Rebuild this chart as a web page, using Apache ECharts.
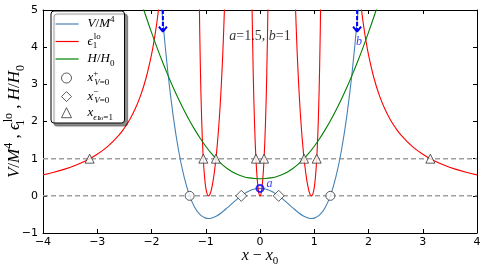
<!DOCTYPE html>
<html>
<head>
<meta charset="utf-8">
<script src="https://cdn.jsdelivr.net/npm/echarts@6/dist/echarts.min.js"></script>
<style>html,body{margin:0;padding:0;background:#fff}#c{width:485px;height:271px}</style>
</head>
<body>
<div id="c"></div>
<script>
// ---------- data ----------
const xTicks = [-4, -3, -2, -1, 0, 1, 2, 3, 4];
const yTicks = [-1, 0, 1, 2, 3, 4, 5];

// V/M^4
const potential = [
  [-1.9,6.734],[-1.8,4.866],[-1.7,3.350],[-1.6,2.146],[-1.5,1.213],[-1.4,0.514],[-1.3,0.014],
  [-1.2,-0.318],[-1.1,-0.514],[-1.0,-0.600],[-0.95,-0.610],[-0.9,-0.602],[-0.8,-0.542],[-0.7,-0.442],
  [-0.6,-0.318],[-0.5,-0.188],[-0.4,-0.062],[-0.3,0.046],[-0.2,0.130],[-0.1,0.182],[0,0.200],
  [0.1,0.182],[0.2,0.130],[0.3,0.046],[0.4,-0.062],[0.5,-0.188],[0.6,-0.318],[0.7,-0.442],
  [0.8,-0.542],[0.9,-0.602],[0.95,-0.610],[1.0,-0.600],[1.1,-0.514],[1.2,-0.318],[1.3,0.014],
  [1.4,0.514],[1.5,1.213],[1.6,2.146],[1.7,3.350],[1.8,4.866],[1.9,6.734]
];

// epsilon_1^lo, visible branches
const epsOuterLeft = [
  [-4,0.564],[-3.8,0.634],[-3.6,0.719],[-3.4,0.823],[-3.2,0.952],[-3.0,1.118],[-2.8,1.336],
  [-2.6,1.632],[-2.5,1.824],[-2.4,2.056],[-2.3,2.342],[-2.2,2.703],[-2.1,3.170],[-2.0,3.797],
  [-1.95,4.197],[-1.9,4.677],[-1.85,5.264]
];
const epsInnerLeft = [
  [-1.13,6.63],[-1.12,5.37],[-1.1,3.52],[-1.075,2.036],[-1.05,1.117],[-1.025,0.553],[-1.0,0.222],
  [-0.975,0.053],[-0.95,0.000],[-0.925,0.036],[-0.9,0.145],[-0.875,0.316],[-0.85,0.544],
  [-0.825,0.830],[-0.8,1.177],[-0.775,1.590],[-0.75,2.083],[-0.725,2.670],[-0.7,3.375],
  [-0.675,4.229],[-0.65,5.28],[-0.64,5.77]
];
const epsCenter = [
  [-0.16,6.55],[-0.15,5.41],[-0.125,3.30],[-0.1,1.911],[-0.075,0.998],[-0.05,0.422],[-0.025,0.102],
  [0,0],[0.025,0.102],[0.05,0.422],[0.075,0.998],[0.1,1.911],[0.125,3.30],[0.15,5.41],[0.16,6.55]
];
const epsInnerRight = [
  [0.64,5.77],[0.65,5.28],[0.675,4.229],[0.7,3.375],[0.725,2.670],[0.75,2.083],[0.775,1.590],
  [0.8,1.177],[0.825,0.830],[0.85,0.544],[0.875,0.316],[0.9,0.145],[0.925,0.036],[0.95,0.000],
  [0.975,0.053],[1.0,0.222],[1.025,0.553],[1.05,1.117],[1.075,2.036],[1.1,3.52],[1.12,5.37],[1.13,6.63]
];
const epsOuterRight = [
  [1.85,5.264],[1.9,4.677],[1.95,4.197],[2.0,3.797],[2.1,3.170],[2.2,2.703],[2.3,2.342],
  [2.4,2.056],[2.5,1.824],[2.6,1.632],[2.8,1.336],[3.0,1.118],[3.2,0.952],[3.4,0.823],
  [3.6,0.719],[3.8,0.634],[4,0.564]
];

// H/H0
const hubble = [
  [-2.2,5.263],[-2.1,4.819],[-2.0,4.397],[-1.9,3.995],[-1.8,3.614],[-1.7,3.255],[-1.6,2.916],
  [-1.5,2.599],[-1.4,2.303],[-1.3,2.028],[-1.2,1.775],[-1.1,1.544],[-1.0,1.335],[-0.9,1.148],
  [-0.8,0.985],[-0.7,0.845],[-0.6,0.728],[-0.5,0.635],[-0.4,0.565],[-0.3,0.515],[-0.2,0.483],
  [-0.1,0.466],[0,0.460],[0.1,0.466],[0.2,0.483],[0.3,0.515],[0.4,0.565],[0.5,0.635],[0.6,0.728],
  [0.7,0.845],[0.8,0.985],[0.9,1.148],[1.0,1.335],[1.1,1.544],[1.2,1.775],[1.3,2.028],[1.4,2.303],
  [1.5,2.599],[1.6,2.916],[1.7,3.255],[1.8,3.614],[1.9,3.995],[2.0,4.397],[2.1,4.819],[2.2,5.263]
];

// special points
const vZeroPlus = [[-1.297,0],[1.297,0]];
const vZeroMinus = [[-0.345,0],[0.345,0]];
const epsOne = [[-3.14,1],[-1.045,1],[-0.813,1],[-0.075,1],[0.075,1],[0.813,1],[1.045,1],[3.14,1]];
const pointA = [[0,0.2]];
const refLevels = [0, 1];

// annotation anchors (data units)
const arrowShaftLeft = [[-1.79,5],[-1.79,4.45]];
const arrowShaftRight = [[1.79,5],[1.79,4.45]];
const arrowHeadLeft = [[-1.864,4.555],[-1.79,4.42],[-1.716,4.555]];
const arrowHeadRight = [[1.716,4.555],[1.79,4.42],[1.864,4.555]];
const labelB = [[1.825,4.15]];
const paramText = [[0,4.29]];

// ---------- styling ----------
const SERIF = "'Liberation Serif','DejaVu Serif',serif";
const SANS = "'DejaVu Sans',sans-serif";
const BLUE = '#4682b4', RED = '#ff0000', GREEN = '#008000';

function richSet(base, color) {
  const lh = Math.round(base * 1.4);
  const s = Math.round(base * 0.7);
  const ss = Math.round(base * 0.55);
  const upH = Math.max(4, Math.round(base * 0.38));
  const dnH = Math.max(5, Math.round(base * 0.55));
  const c = color || '#000';
  return {
    i:    {fontFamily: SERIF, fontStyle: 'italic', fontSize: base, lineHeight: lh, color: c},
    r:    {fontFamily: SERIF, fontSize: base, lineHeight: lh, color: c},
    sup:  {fontFamily: SERIF, fontSize: s, lineHeight: upH, verticalAlign: 'top', color: c},
    supw: {fontFamily: SERIF, fontSize: s, lineHeight: upH, verticalAlign: 'top', width: 1, color: c},
    sub:  {fontFamily: SERIF, fontSize: s, lineHeight: dnH, verticalAlign: 'bottom', color: c},
    subw: {fontFamily: SERIF, fontSize: s, lineHeight: dnH, verticalAlign: 'bottom', width: 1, color: c},
    subi: {fontFamily: SERIF, fontStyle: 'italic', fontSize: s, lineHeight: dnH, verticalAlign: 'bottom', color: c},
    ssub: {fontFamily: SERIF, fontSize: ss, lineHeight: 2, verticalAlign: 'bottom', width: 1, color: c},
    ssup: {fontFamily: SERIF, fontSize: ss, lineHeight: 14, verticalAlign: 'bottom', color: c}
  };
}

const legendText = {
  V:  '{i|V}{r|/}{i|M}{sup|4}',
  eps: '{i|ϵ}{subw|1}{sup|lo}',
  H:  '{i|H}{r|/}{i|H}{sub|0}',
  xp: '{i|x}{supw|+}{subi|V}{sub|=0}',
  xm: '{i|x}{supw|−}{subi|V}{sub|=0}',
  xe: '{i|x}{subi|ϵ}{ssub|1}{ssup|lo}{sub|=1}'
};

const tickFmt = v => String(v).replace('-', '\u2212');

function axisCommon(extra) {
  return Object.assign({
    type: 'value',
    axisLine: {show: true, onZero: false, lineStyle: {color: '#000', width: 1}},
    axisTick: {show: true, inside: true, length: 4, lineStyle: {color: '#000', width: 1}},
    splitLine: {show: false},
    minorTick: {show: false}
  }, extra);
}

const lineBase = {type: 'line', symbol: 'none', smooth: 0.4, clip: true, silent: true};

const series = [];
refLevels.forEach((lv, k) => series.push(Object.assign({}, lineBase, {
  name: 'ref' + k, data: [[xTicks[0], lv], [xTicks[xTicks.length-1], lv]], smooth: false, z: 1,
  lineStyle: {color: '#a0a0a0', width: 1.5, type: [5, 3]}
})));
series.push(Object.assign({}, lineBase, {name: 'V', data: potential, z: 2,
  itemStyle: {color: BLUE}, lineStyle: {color: BLUE, width: 1.1}}));
[epsOuterLeft, epsInnerLeft, epsCenter, epsInnerRight, epsOuterRight].forEach(seg =>
  series.push(Object.assign({}, lineBase, {name: 'eps', data: seg, z: 2,
    itemStyle: {color: RED}, lineStyle: {color: RED, width: 1.1}})));
series.push(Object.assign({}, lineBase, {name: 'H', data: hubble, z: 2,
  itemStyle: {color: GREEN}, lineStyle: {color: GREEN, width: 1.1}}));

const mk = {color: '#fff', borderColor: '#333', borderWidth: 1};
series.push({type: 'scatter', name: 'xp', data: vZeroPlus, symbol: 'circle', symbolSize: 9, itemStyle: mk, z: 4, silent: true});
series.push({type: 'scatter', name: 'xm', data: vZeroMinus, symbol: 'diamond', symbolSize: 11, itemStyle: mk, z: 4, silent: true});
series.push({type: 'scatter', name: 'xe', data: epsOne, symbol: 'triangle', symbolSize: 9, itemStyle: mk, z: 4, silent: true});

series.push({type: 'scatter', name: 'a', data: pointA, symbol: 'circle', symbolSize: 7, z: 5, silent: true,
  itemStyle: {color: 'rgba(0,0,0,0)', borderColor: '#0000ff', borderWidth: 2},
  label: {show: true, formatter: '{i|a}', position: 'right', distance: 2, offset: [0, -5], rich: richSet(12, '#0000ff')}});

[arrowShaftLeft, arrowShaftRight].forEach((d, k) => series.push(Object.assign({}, lineBase, {
  name: 'shaft' + k, data: d, smooth: false, z: 5, lineStyle: {color: '#0000ff', width: 2, type: [4, 2]}})));
[arrowHeadLeft, arrowHeadRight].forEach((d, k) => series.push(Object.assign({}, lineBase, {
  name: 'head' + k, data: d, smooth: false, z: 5, lineStyle: {color: '#0000ff', width: 2}})));

series.push({type: 'scatter', name: 'bLabel', data: labelB, symbolSize: 1, z: 5, silent: true,
  itemStyle: {color: 'rgba(0,0,0,0)'},
  label: {show: true, position: 'inside', formatter: '{i|b}', rich: richSet(12, '#0000ff')}});
series.push({type: 'scatter', name: 'params', data: paramText, symbolSize: 1, z: 5, silent: true,
  itemStyle: {color: 'rgba(0,0,0,0)'},
  label: {show: true, position: 'inside', formatter: '{i|a}{r|=1.5, }{i|b}{r|=1}', rich: richSet(14)}});

const hideSym = {opacity: 0};
const legendRich = richSet(13);
const option = {
  animation: false,
  backgroundColor: '#fff',
  grid: {left: 43, right: 8, top: 10, bottom: 38, containLabel: false, outerBoundsMode: 'none'},
  xAxis: [
    axisCommon({position: 'bottom', min: xTicks[0], max: xTicks[xTicks.length-1], interval: 1,
      axisLabel: {show: true, margin: 4, color: '#000', fontFamily: SANS, fontSize: 11, formatter: tickFmt},
      name: '{i|x}{r| − }{i|x}{sub|0}', nameLocation: 'middle', nameGap: 12, nameMoveOverlap: false,
      nameTextStyle: {rich: richSet(16)}}),
    axisCommon({position: 'top', min: xTicks[0], max: xTicks[xTicks.length-1], interval: 1,
      axisLabel: {show: false}})
  ],
  yAxis: [
    axisCommon({position: 'left', min: yTicks[0], max: yTicks[yTicks.length-1], interval: 1,
      axisLabel: {show: true, margin: 5, color: '#000', fontFamily: SANS, fontSize: 11, formatter: tickFmt},
      name: '{i|V}{r|/}{i|M}{sup|4}{r| , }{i|ϵ}{subw|1}{sup|lo}{r| , }{i|H}{r|/}{i|H}{sub|0}',
      nameLocation: 'middle', nameRotate: 90, nameGap: 16, nameMoveOverlap: false,
      nameTextStyle: {rich: richSet(17)}}),
    axisCommon({position: 'right', min: yTicks[0], max: yTicks[yTicks.length-1], interval: 1,
      axisLabel: {show: false}})
  ],
  legend: [
    {
      orient: 'vertical', left: 51, top: 11,
      padding: [4, 10, 55, 4], itemGap: 2,
      itemWidth: 23, itemHeight: 9,
      backgroundColor: '#fff', borderColor: '#000', borderWidth: 1, borderRadius: 3,
      shadowColor: 'rgba(0,0,0,0.45)', shadowBlur: 1, shadowOffsetX: 3, shadowOffsetY: 3,
      selectedMode: false,
      data: [
        {name: 'V', itemStyle: hideSym},
        {name: 'eps', itemStyle: hideSym},
        {name: 'H', itemStyle: hideSym}
      ],
      formatter: n => legendText[n],
      textStyle: {rich: legendRich, padding: [0, 0, 0, 4]},
      lineStyle: {width: 1.2}
    },
    {
      orient: 'vertical', left: 61, top: 69,
      padding: 0, itemGap: 0.6,
      itemWidth: 10, itemHeight: 10,
      selectedMode: false,
      data: ['xp', 'xm', 'xe'],
      formatter: n => legendText[n],
      textStyle: {rich: legendRich, padding: [0, 0, 0, 11]},
      itemStyle: {borderWidth: 1}
    }
  ],
  series: series
};

const chart = echarts.init(document.getElementById('c'), null, {renderer: 'canvas'});
chart.setOption(option);
</script>
</body>
</html>
